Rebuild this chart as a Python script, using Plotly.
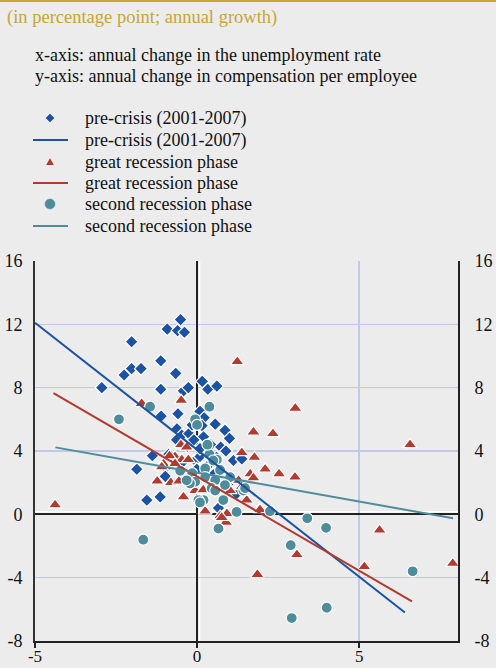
import plotly.graph_objects as go

# ---------------- data ----------------
pre_x = [-2.94, -2.02, -2.25, -2.02, -1.73, -0.92, -0.60, -0.51, -0.39, -1.12,
         -0.66, -1.12, -0.42, -0.27, 0.16, 0.33, 0.61, -1.11, -0.59, 0.09,
         0.22, 0.56, 0.86, 1.00, -0.62, -0.47, -0.25, -0.15, -0.63, 0.15,
         -1.38, -1.86, -0.87, -0.73, -0.06, 0.09, -0.01, -0.97, -1.55, -1.14,
         0.42, -0.98, 0.66, 1.12, 0.73, 0.89, 1.22, 0.09, -0.30, -0.45,
         0.30, 0.50, -0.20, 1.00, 0.20, -0.10, 0.60, 1.38]
pre_y = [8.0, 10.9, 8.8, 9.2, 9.2, 11.7, 11.6, 12.3, 11.5, 9.7,
         8.9, 7.9, 7.8, 8.0, 8.4, 7.9, 8.1, 6.2, 6.35, 6.5,
         6.1, 5.7, 5.3, 4.8, 5.4, 5.0, 5.1, 5.65, 4.7, 5.6,
         3.7, 2.85, 3.8, 3.5, 3.4, 3.65, 2.85, 2.95, 0.9, 1.1,
         4.4, 2.4, 0.4, 3.4, 4.25, 4.0, 1.3, 4.15, 4.3, 3.3,
         3.0, 2.5, 2.3, 2.0, 4.9, 4.7, 3.6, 3.5]

great_x = [-4.38, -1.71, -0.49, 1.24, 3.03, 1.74, 2.34, 1.38, 1.77, 2.10,
           2.53, 3.02, 1.64, 1.74, -1.23, -0.81, -0.56, -0.42, 0.25, 0.71,
           0.89, 1.53, 1.94, -0.50, -0.32, -0.68, -0.47, -0.27, -1.04, -0.85,
           -0.06, 0.19, 0.50, 0.92, 1.02, 1.28, 1.38, 6.57, 5.63, 3.08,
           1.86, 5.16, 7.89, -1.09, -0.68, 1.48, 0.92, 0.76]
great_y = [0.6, 7.0, 7.2, 9.65, 6.7, 5.2, 5.1, 3.9, 3.6, 2.85,
           2.55, 2.35, 2.55, 2.3, 2.1, 2.0, 2.1, 1.1, 0.2, -0.1,
           -0.5, 0.9, 0.3, 4.4, 4.25, 3.65, 3.45, 3.45, 3.2, 3.7,
           1.5, 1.55, 1.75, 1.85, 1.5, 2.15, 1.75, 4.4, -1.0, -2.55,
           -3.8, -3.3, -3.1, 3.0, 3.2, 1.6, 0.05, -0.2]

second_x = [-2.41, -1.45, -0.06, 0.38, -1.66, 0.66, 1.22, 2.25, 3.40, 3.98,
            2.89, 4.00, 2.92, 6.65, 0.38, 0.61, 0.71, 0.25, 0.25, -0.16,
            -0.15, -0.52, 0.56, 0.45, 0.83, 0.20, 0.04, 0.09, 1.43, 1.48,
            1.02, 0.00, 0.32, -0.06, -0.22, -0.32, 0.86, 0.56, 0.81, 0.50]
second_y = [6.0, 6.8, 6.0, 6.8, -1.6, -0.9, 0.15, 0.2, -0.25, -0.85,
            -1.95, -5.9, -6.55, -3.6, 3.8, 3.45, 2.8, 2.9, 2.35, 2.15,
            2.6, 2.75, 2.15, 1.65, 0.95, 0.9, 0.9, 0.75, 1.5, 1.65,
            2.35, 5.65, 4.4, 2.05, 1.95, 2.15, 1.85, 1.5, 0.9, 3.4]

# fitted lines (end points)
pre_fit_x = [-5.0, 6.41]
pre_fit_y = [12.1, -6.2]
great_fit_x = [-4.43, 6.63]
great_fit_y = [7.66, -5.5]
second_fit_x = [-4.37, 7.9]
second_fit_y = [4.23, -0.25]

series_names = ["pre-crisis (2001-2007)", "great recession phase", "second recession phase"]

x_ticks = [-5, 0, 5]
y_ticks = [-8, -4, 0, 4, 8, 12, 16]

BLUE = "#1B52A3"
RED = "#B23A2F"
TEAL = "#4F8C9B"
GOLD = "#C8A534"
BG = "#ECECEC"
GRID = "#C2C9E8"
FONT = '"Liberation Serif", "Times New Roman", Times, "DejaVu Serif", serif'
TXT = "#111111"

W, H = 496, 668
ML, MR, MT, MB = 35, 38, 261, 27
PW, PH = W - ML - MR, H - MT - MB


def px(xp):
    return (xp - ML) / PW


def py(yp):
    return 1 + (MT - yp) / PH


fig = go.Figure()

fig.add_trace(go.Scatter(
    x=pre_x, y=pre_y, mode="markers", name=series_names[0],
    marker=dict(symbol="diamond", size=10, color=BLUE, line=dict(color="white", width=1.2))))
fig.add_trace(go.Scatter(
    x=great_x, y=great_y, mode="markers", name=series_names[1],
    marker=dict(symbol="triangle-up", size=12, color=RED, line=dict(color="white", width=1.2))))
fig.add_trace(go.Scatter(
    x=second_x, y=second_y, mode="markers", name=series_names[2],
    marker=dict(symbol="circle", size=11, color=TEAL, line=dict(color="white", width=1.2))))
fig.add_trace(go.Scatter(
    x=pre_fit_x, y=pre_fit_y, mode="lines", name=series_names[0],
    line=dict(color=BLUE, width=2)))
fig.add_trace(go.Scatter(
    x=great_fit_x, y=great_fit_y, mode="lines", name=series_names[1],
    line=dict(color=RED, width=2)))
fig.add_trace(go.Scatter(
    x=second_fit_x, y=second_fit_y, mode="lines", name=series_names[2],
    line=dict(color=TEAL, width=2), yaxis="y2"))

# ---- legend (drawn as key glyphs + text) ----
leg_rows = [118, 140, 162, 183, 204, 226]
leg_text_x = 83
key_cx = 50
shapes = []
annotations = []
labels = [series_names[0], series_names[0], series_names[1],
          series_names[1], series_names[2], series_names[2]]
for yp, lab in zip(leg_rows, labels):
    annotations.append(dict(
        text=lab, xref="paper", yref="paper", x=px(leg_text_x), y=py(yp),
        xanchor="left", yanchor="middle", showarrow=False,
        font=dict(family=FONT, size=18, color=TXT)))

# diamond key
r = 4.8
yc = leg_rows[0]
shapes.append(dict(type="path", xref="paper", yref="paper", fillcolor=BLUE,
                   line=dict(color="white", width=0.8),
                   path=f"M {px(key_cx)},{py(yc - r)} L {px(key_cx + r)},{py(yc)} "
                        f"L {px(key_cx)},{py(yc + r)} L {px(key_cx - r)},{py(yc)} Z"))
# triangle key
yc = leg_rows[2]
shapes.append(dict(type="path", xref="paper", yref="paper", fillcolor=RED,
                   line=dict(color="white", width=0.8),
                   path=f"M {px(key_cx)},{py(yc - 4.8)} L {px(key_cx + 4.6)},{py(yc + 3.6)} "
                        f"L {px(key_cx - 4.6)},{py(yc + 3.6)} Z"))
# circle key
yc = leg_rows[4]
shapes.append(dict(type="circle", xref="paper", yref="paper", fillcolor=TEAL,
                   line=dict(color=TEAL, width=0.5),
                   x0=px(key_cx - 5), x1=px(key_cx + 5), y0=py(yc + 5), y1=py(yc - 5)))
# line keys
for idx, col in [(1, BLUE), (3, RED), (5, TEAL)]:
    yc = leg_rows[idx]
    shapes.append(dict(type="line", xref="paper", yref="paper",
                       x0=px(33), x1=px(68), y0=py(yc), y1=py(yc),
                       line=dict(color=col, width=2)))

# gold rule at top
shapes.append(dict(type="line", xref="paper", yref="paper",
                   x0=px(0), x1=px(W), y0=py(1), y1=py(1),
                   line=dict(color=GOLD, width=2)))
# white highlight next to zero lines
shapes.append(dict(type="line", xref="x", yref="paper", xsizemode="pixel", xanchor=0,
                   x0=2.5, x1=2.5, y0=0, y1=1, line=dict(color="white", width=1.5), layer="below"))
shapes.append(dict(type="line", xref="paper", yref="y", ysizemode="pixel", yanchor=0,
                   y0=2.5, y1=2.5, x0=0, x1=1, line=dict(color="white", width=1.5), layer="below"))

annotations += [
    dict(text="x-axis: annual change in the unemployment rate",
         xref="paper", yref="paper", x=px(33), y=py(55),
         xanchor="left", yanchor="middle", showarrow=False,
         font=dict(family=FONT, size=18, color=TXT)),
    dict(text="y-axis: annual change in compensation per employee",
         xref="paper", yref="paper", x=px(33), y=py(76),
         xanchor="left", yanchor="middle", showarrow=False,
         font=dict(family=FONT, size=18, color=TXT)),
]

fig.update_layout(
    width=W, height=H,
    paper_bgcolor=BG, plot_bgcolor=BG,
    margin=dict(l=ML, r=MR, t=MT, b=MB, autoexpand=False),
    font=dict(family=FONT, size=18, color=TXT),
    showlegend=False,
    title=dict(
        text="(in percentage point; annual growth)",
        x=7 / W, xref="container", xanchor="left",
        y=1 - 17 / H, yref="container", yanchor="middle",
        font=dict(family=FONT, size=18.5, color=GOLD),
    ),
    xaxis=dict(
        range=[-5, 8.05], tickvals=x_ticks, ticktext=[str(v) for v in x_ticks],
        showgrid=True, gridcolor=GRID, gridwidth=1.5,
        zeroline=True, zerolinecolor="#222222", zerolinewidth=2,
        showline=True, linecolor="#222222", linewidth=2,
        ticks="outside", ticklen=5, tickcolor="#222222", tickwidth=2,
        ticklabelstandoff=-6,
        tickfont=dict(family=FONT, size=17, color=TXT),
        automargin=False, fixedrange=True,
    ),
    yaxis=dict(
        range=[-8, 16], tickvals=y_ticks, ticktext=[str(v) for v in y_ticks],
        showgrid=True, gridcolor=GRID, gridwidth=1.5,
        zeroline=True, zerolinecolor="#222222", zerolinewidth=2,
        showline=True, linecolor="#333333", linewidth=2,
        ticks="", ticklabelstandoff=7,
        tickfont=dict(family=FONT, size=18, color=TXT),
        automargin=False, fixedrange=True,
    ),
    yaxis2=dict(
        range=[-8, 16], tickvals=y_ticks, ticktext=[str(v) for v in y_ticks],
        overlaying="y", side="right", anchor="x",
        showgrid=False, zeroline=False,
        showline=True, linecolor="#222222", linewidth=2,
        ticks="", ticklabelstandoff=11,
        tickfont=dict(family=FONT, size=18, color=TXT),
        automargin=False, fixedrange=True,
    ),
    shapes=shapes,
    annotations=annotations,
)

fig.write_html("out.html", config={"displayModeBar": False, "staticPlot": True},
               post_script="document.body.style.margin='0';")
